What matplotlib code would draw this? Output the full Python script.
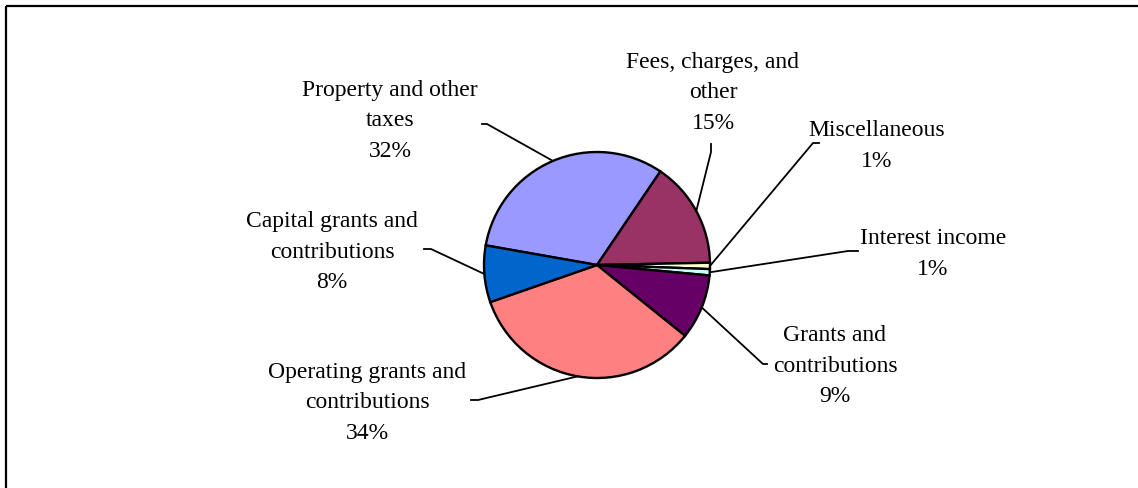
import numpy as np
import matplotlib
matplotlib.use("Agg")
import matplotlib.pyplot as plt

# ---- data ----
categories = ["Property and other\ntaxes", "Fees, charges, and\nother", "Miscellaneous",
              "Interest income", "Grants and\ncontributions",
              "Operating grants and\ncontributions", "Capital grants and\ncontributions"]
shares = [31.7, 15.2, 0.9, 0.9, 9.3, 33.9, 8.1]
colors = ["#9999FF", "#993366", "#FFFFCC", "#CCFFFF", "#660066", "#FF8080", "#0066CC"]

# label layout (image pixels, y down): text centre, elbow, end of leader
text_pos = [(390, 121), (713, 93), (877, 146), (933, 254), (835, 366), (367, 403), (332, 252)]
elbows = [(487, 125), (711, 153), (813, 144), (848, 252), (763, 365), (478, 401), (431, 250)]
ends = [(482, 125), (711, 145), (819, 144), (858, 252), (767, 365), (471, 401), (424, 250)]

W, H = 1138, 489
fig = plt.figure(figsize=(W / 100, H / 100), dpi=100)

cx, cy, r = 597, 266, 113
ax = fig.add_axes([(cx - r) / W, (H - cy - r) / H, 2 * r / W, 2 * r / H])
wedges, _ = ax.pie(shares, colors=colors, startangle=170, counterclock=False,
                   radius=1.0, wedgeprops=dict(edgecolor="black", linewidth=1.7))
ax.set_xlim(-1, 1)
ax.set_ylim(-1, 1)
ax.set_aspect("auto")
ax.axis("off")

# overlay in pixel coordinates
ov = fig.add_axes([0, 0, 1, 1], facecolor="none")
ov.set_xlim(0, W)
ov.set_ylim(H, 0)
ov.axis("off")

# border (top and left only)
ov.plot([6, W], [7, 7], color="black", lw=1.6, solid_capstyle="butt")
ov.plot([6, 6], [7, H], color="black", lw=1.6, solid_capstyle="butt")

total = sum(shares)
fig.canvas.draw()
for i, w in enumerate(wedges):
    mid = np.deg2rad((w.theta1 + w.theta2) / 2)
    px, py = ax.transData.transform((np.cos(mid), np.sin(mid)))
    ex, ey = px, H - py
    ov.plot([ex, elbows[i][0], ends[i][0]], [ey, elbows[i][1], ends[i][1]],
            color="black", lw=1.3)
    label = f"{categories[i]}\n{shares[i] / total * 100:.0f}%"
    ov.text(text_pos[i][0], text_pos[i][1], label, ha="center", va="center",
            family="Liberation Serif", fontsize=17, linespacing=1.62,
            multialignment="center")

fig.savefig("out.png", dpi=100)
